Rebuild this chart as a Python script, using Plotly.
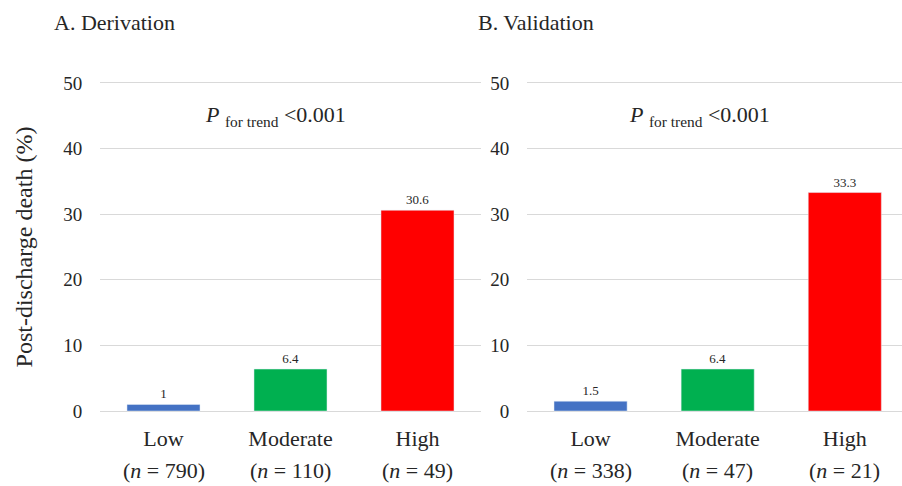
import plotly.graph_objects as go

categories = ["Low", "Moderate", "High"]
deriv_values = [1.0, 6.4, 30.6]
valid_values = [1.5, 6.4, 33.3]
deriv_labels = ["1", "6.4", "30.6"]
valid_labels = ["1.5", "6.4", "33.3"]
deriv_n = [790, 110, 49]
valid_n = [338, 47, 21]
bar_colors = ["#4472C4", "#00B050", "#FF0000"]
y_ticks = [0, 10, 20, 30, 40, 50]

FONT = "Liberation Serif, Times New Roman, serif"
TXT = "#262626"

fig = go.Figure()
fig.add_trace(go.Bar(x=categories, y=deriv_values, text=deriv_labels, marker_color=bar_colors,
                     width=0.575, textposition="outside", cliponaxis=False,
                     textfont=dict(family=FONT, size=13, color=TXT), xaxis="x", yaxis="y",
                     showlegend=False, hoverinfo="skip"))
fig.add_trace(go.Bar(x=categories, y=valid_values, text=valid_labels, marker_color=bar_colors,
                     width=0.575, textposition="outside", cliponaxis=False,
                     textfont=dict(family=FONT, size=13, color=TXT), xaxis="x2", yaxis="y2",
                     showlegend=False, hoverinfo="skip"))

W, H = 902, 486
L, R, T, B = 100, 0, 81, 73
pw = W - L - R
ph = H - T - B
d1 = [0, 381 / pw]
d2 = [(527 - L) / pw, 1]

common_x = dict(type="category", showgrid=False, zeroline=False, showline=False,
                tickfont=dict(family=FONT, size=22, color=TXT),
                ticks="outside", ticklen=6, tickcolor="rgba(0,0,0,0)")
common_y = dict(range=[-0.3, 50.3], tickvals=y_ticks, showgrid=True, gridcolor="#d9d9d9",
                gridwidth=1, zeroline=False, showline=False,
                tickfont=dict(family=FONT, size=19, color=TXT),
                ticks="outside", ticklen=13, tickcolor="rgba(0,0,0,0)")

fig.update_layout(
    width=W, height=H,
    margin=dict(l=L, r=R, t=T, b=B),
    plot_bgcolor="white", paper_bgcolor="white",
    xaxis=dict(domain=d1, range=[-0.5, 2.5], **common_x),
    xaxis2=dict(domain=d2, range=[-0.5, 2.45], anchor="y2", **common_x),
    yaxis=dict(anchor="x", title=dict(text="Post-discharge death (%)",
                                      font=dict(family=FONT, size=24, color=TXT), standoff=23),
               **common_y),
    yaxis2=dict(anchor="x2", **common_y),
    bargap=0.4,
    hovermode=False,
)

annotations = []
for xa, ns in (("x", deriv_n), ("x2", valid_n)):
    for c, n in zip(categories, ns):
        annotations.append(dict(x=c, xref=xa, y=(H - B - 470) / ph, yref="paper", yanchor="middle",
                                text=f"(<i>n</i> = {n})", showarrow=False,
                                font=dict(family=FONT, size=22, color=TXT)))
    annotations.append(dict(x=0.46, xref=f"{xa} domain", y=45.0, yref="y" if xa == "x" else "y2",
                            text="<i>P</i> <sub>for trend</sub> <0.001", showarrow=False,
                            font=dict(family=FONT, size=22, color=TXT)))

annotations.append(dict(x=(52 - L) / pw, xref="paper", xanchor="left", y=(H - B - 22) / ph,
                        yref="paper", yanchor="middle", text="A. Derivation", showarrow=False,
                        font=dict(family=FONT, size=22, color=TXT)))
annotations.append(dict(x=(476 - L) / pw, xref="paper", xanchor="left", y=(H - B - 22) / ph,
                        yref="paper", yanchor="middle", text="B. Validation", showarrow=False,
                        font=dict(family=FONT, size=22, color=TXT)))
fig.update_layout(annotations=annotations)

fig.write_html("out.html", config={"displayModeBar": False},
               post_script="document.body.style.margin='0px';document.body.style.padding='0px';")
